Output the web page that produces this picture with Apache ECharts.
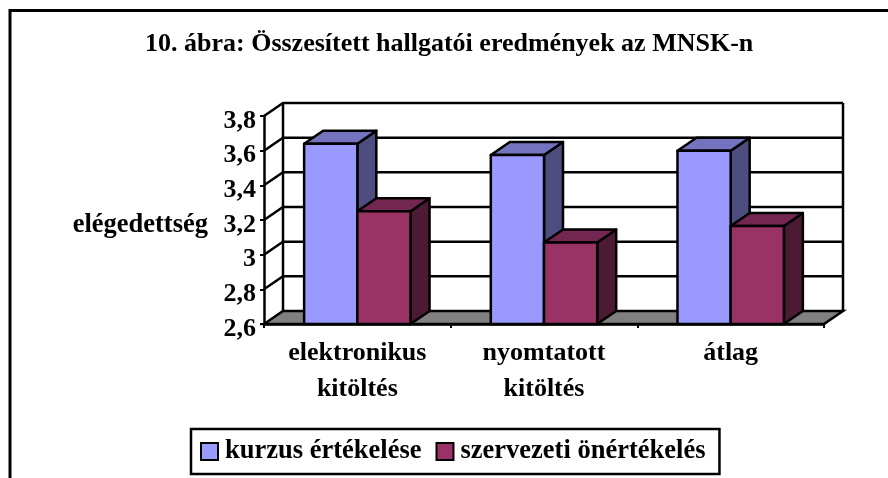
<!DOCTYPE html>
<html>
<head>
<meta charset="utf-8">
<script src="https://cdn.jsdelivr.net/npm/echarts@6/dist/echarts.min.js"></script>
<style>
  html, body { margin: 0; padding: 0; background: #fff; }
  #chart { width: 888px; height: 478px; }
</style>
</head>
<body>
<div id="chart"></div>
<script>
const categories = ['elektronikus\nkitöltés', 'nyomtatott\nkitöltés', 'átlag']
const kurzusValues = [3.64, 3.575, 3.6]
const szervezetiValues = [3.25, 3.07, 3.165]
const yTicks = [2.6, 2.8, 3, 3.2, 3.4, 3.6, 3.8]
const seriesNames = ['kurzus értékelése', 'szervezeti önértékelés']

const FONT = '"Liberation Serif", "Times New Roman", serif'
const DEPTH_X = 19
const DEPTH_Y = 13
const BAR_RATIO = 0.285
const LINE = 2.5

// 3D oszlop: eleje, teteje, oldala
const barRenderer = (offset, front, top, side) => (params, api) => {
  const base = api.coord([api.value(0), yTicks[0]])
  const head = api.coord([api.value(0), api.value(1)])
  const w = api.size([1, 0])[0] * BAR_RATIO
  const x0 = base[0] + offset * w
  const x1 = x0 + w
  const y0 = base[1]
  const y1 = head[1]
  const line = { stroke: '#000', lineWidth: LINE, lineJoin: 'round' }
  return {
    type: 'group',
    children: [
      { type: 'polygon', shape: { points: [[x1, y0], [x1 + DEPTH_X, y0 - DEPTH_Y], [x1 + DEPTH_X, y1 - DEPTH_Y], [x1, y1]] }, style: { fill: side, ...line } },
      { type: 'polygon', shape: { points: [[x0, y1], [x0 + DEPTH_X, y1 - DEPTH_Y], [x1 + DEPTH_X, y1 - DEPTH_Y], [x1, y1]] }, style: { fill: top, ...line } },
      { type: 'rect', shape: { x: x0, y: y1, width: w, height: y0 - y1 }, style: { fill: front, ...line } }
    ]
  }
}

// hátfal rácsvonalai és a padló
const wallRenderer = (params, api) => {
  const cs = params.coordSys
  const y = api.coord([0, api.value(0)])[1]
  const left = cs.x
  const right = cs.x + cs.width
  const children = []
  if (api.value(0) === yTicks[0]) {
    children.push({
      type: 'polygon',
      shape: { points: [[left, y], [left + DEPTH_X, y - DEPTH_Y], [right + DEPTH_X, y - DEPTH_Y], [right, y]] },
      style: { fill: '#808080', stroke: '#000', lineWidth: LINE }
    })
    children.push({
      type: 'polyline',
      shape: { points: [[left + DEPTH_X, y - DEPTH_Y], [left + DEPTH_X, cs.y - DEPTH_Y]] },
      style: { fill: 'none', stroke: '#000', lineWidth: LINE }
    })
    children.push({
      type: 'polyline',
      shape: { points: [[right + DEPTH_X, y - DEPTH_Y], [right + DEPTH_X, cs.y - DEPTH_Y]] },
      style: { fill: 'none', stroke: '#000', lineWidth: LINE }
    })
  } else {
    children.push({
      type: 'polyline',
      shape: { points: [[left, y], [left + DEPTH_X, y - DEPTH_Y], [right + DEPTH_X, y - DEPTH_Y]] },
      style: { fill: 'none', stroke: '#000', lineWidth: LINE }
    })
  }
  return { type: 'group', children }
}

const chart = echarts.init(document.getElementById('chart'), null, { renderer: 'canvas' })

chart.setOption({
  backgroundColor: '#fff',
  animation: false,
  textStyle: { fontFamily: FONT },
  title: {
    text: '10. ábra: Összesített hallgatói eredmények az MNSK-n',
    left: 145,
    top: 31,
    padding: 0,
    textStyle: { fontFamily: FONT, fontSize: 26, fontWeight: 'bold', color: '#000' }
  },
  legend: {
    data: seriesNames,
    left: 191,
    top: 429,
    orient: 'horizontal',
    icon: 'rect',
    padding: [9, 14, 9, 9],
    itemGap: 14,
    itemWidth: 17,
    itemHeight: 17,
    borderColor: '#000',
    borderWidth: 2.5,
    backgroundColor: '#fff',
    textStyle: { fontFamily: FONT, fontSize: 26.5, fontWeight: 'bold', color: '#000', padding: [0, 0, 0, 2] }
  },
  grid: { left: 264, right: 64, top: 116, bottom: 154 },
  xAxis: {
    type: 'category',
    data: categories,
    axisLine: { lineStyle: { color: '#000', width: LINE } },
    axisTick: { show: true, length: 4, lineStyle: { color: '#000', width: 2 } },
    axisLabel: { color: '#000', fontFamily: FONT, fontSize: 26, fontWeight: 'bold', lineHeight: 36, margin: 11 }
  },
  yAxis: {
    type: 'value',
    min: 2.6,
    max: 3.8,
    interval: 0.2,
    name: 'elégedettség',
    nameLocation: 'middle',
    nameRotate: 0,
    nameGap: 56,
    nameTextStyle: { color: '#000', fontFamily: FONT, fontSize: 26.5, fontWeight: 'bold', align: 'right', verticalAlign: 'top', lineHeight: 10 },
    axisLine: { show: true, lineStyle: { color: '#000', width: LINE } },
    axisTick: { show: true, length: 4, lineStyle: { color: '#000', width: 2 } },
    splitLine: { show: false },
    axisLabel: {
      color: '#000',
      fontFamily: FONT,
      fontSize: 26,
      fontWeight: 'bold',
      margin: 8,
      verticalAlign: 'top',
      lineHeight: 10,
      formatter: v => String(Math.round(v * 10) / 10).replace('.', ',')
    }
  },
  series: [
    {
      type: 'custom',
      name: 'fal',
      silent: true,
      z: 1,
      data: yTicks.map(v => [v]),
      encode: { y: 0 },
      renderItem: wallRenderer
    },
    {
      type: 'custom',
      name: seriesNames[0],
      z: 2,
      itemStyle: { color: '#9999FF', borderColor: '#000', borderWidth: 2.5 },
      data: kurzusValues.map((v, i) => [i, v]),
      encode: { x: 0, y: 1 },
      renderItem: barRenderer(-1, '#9999FF', '#7373BF', '#4D4D80')
    },
    {
      type: 'custom',
      name: seriesNames[1],
      z: 3,
      itemStyle: { color: '#993366', borderColor: '#000', borderWidth: 2.5 },
      data: szervezetiValues.map((v, i) => [i, v]),
      encode: { x: 0, y: 1 },
      renderItem: barRenderer(0, '#993366', '#732650', '#4D1A33')
    }
  ],
  graphic: [
    {
      // külső keret: bal és felső él
      type: 'polyline',
      silent: true,
      shape: { points: [[10, 478], [10, 10.5], [888, 10.5]] },
      style: { fill: 'none', stroke: '#000', lineWidth: 3 }
    }
  ]
})
</script>
</body>
</html>
